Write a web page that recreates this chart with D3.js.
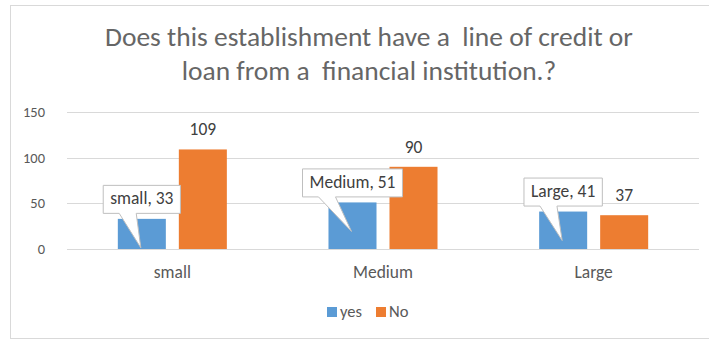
<!DOCTYPE html>
<html><head><meta charset="utf-8">
<script src="https://cdn.jsdelivr.net/npm/d3@7"></script>
<style>body{margin:0;background:#fff}svg{display:block}text{font-family:Carlito,Lato,"Open Sans",sans-serif}</style>
</head><body><svg id="c" width="709" height="340"></svg>
<script>
const categories = ["small", "Medium", "Large"];
const seriesNames = ["yes", "No"];
const yesValues = [33, 51, 41];
const noValues = [109, 90, 37];
const yTicks = [0, 50, 100, 150];
const titleLines = ["Does this establishment have a  line of credit or", "loan from a  financial institution.?"];
const colors = {yes: "#5b9bd5", No: "#ed7d31"};

const svg = d3.select("#c");
svg.append("rect").attr("width",709).attr("height",340).attr("fill","#fff");
svg.append("rect").attr("x",10.5).attr("y",5.5).attr("width",710).attr("height",333).attr("fill","none").attr("stroke","#d9d9d9");

function fit(str, target){
  const t = svg.append("text").attr("font-size",20).style("white-space","pre").text(str);
  const w = t.node().getComputedTextLength(); t.remove();
  return 20*target/w;
}
const fsTitle = fit(titleLines[0], 528);
const fsTick = fit("150", 22);
const fsLab = fit("Medium, 51", 86);
const fsCat = fit("Medium", 60);
const fsLeg = fit("yes", 22);

// title
svg.append("g").selectAll("text").data(titleLines).join("text")
  .attr("x",369).attr("y",(d,i)=>46+i*34).attr("text-anchor","middle")
  .attr("fill","#666666").attr("font-size",fsTitle).style("white-space","pre").text(d=>d);

const y = d3.scaleLinear().domain([0,150]).range([249,112]);
const x = d3.scaleBand().domain(categories).range([67,699]);
const x1 = d3.scaleBand().domain(seriesNames).range([0,x.bandwidth()]).paddingInner(0.213).paddingOuter(0.833);

// grid
svg.append("g").selectAll("line").data(yTicks).join("line")
  .attr("x1",67).attr("x2",699).attr("y1",d=>Math.round(y(d))+0.5).attr("y2",d=>Math.round(y(d))+0.5)
  .attr("stroke","#d9d9d9").attr("stroke-width",1);
svg.append("g").selectAll("text").data(yTicks).join("text")
  .attr("x",45).attr("y",d=>y(d)+5).attr("text-anchor","end").attr("fill","#595959").attr("font-size",fsTick).text(d=>d);

const data = categories.map((c,i)=>({cat:c, yes:yesValues[i], No:noValues[i]}));

// bars
const g = svg.append("g");
data.forEach(d=>{
  seriesNames.forEach(s=>{
    g.append("rect").attr("x",x(d.cat)+x1(s)).attr("y",y(d[s])).attr("width",x1.bandwidth())
      .attr("height",y(0)-y(d[s])).attr("fill",colors[s]);
  });
});

// No labels
svg.append("g").selectAll("text").data(data).join("text")
  .attr("x",d=>x(d.cat)+x1("No")+x1.bandwidth()/2).attr("y",d=>y(d.No)-14)
  .attr("text-anchor","middle").attr("fill","#404040").attr("font-size",fsLab).text(d=>d.No);

// yes callouts
const cg = svg.append("g");
data.forEach(d=>{
  const cx = x(d.cat)+x1("yes")+x1.bandwidth()/2;
  const top = y(d.yes);
  const label = d.cat+", "+d.yes;
  const t = cg.append("text").attr("font-size",fsLab).attr("fill","#404040").attr("text-anchor","middle").text(label);
  const tw = t.node().getComputedTextLength();
  const bw = tw+14, bh = 28;
  const bx = cx-bw/2, by2 = top-5.5, by = by2-bh;
  const tipX = cx-1, tipY = top+29;
  const p = `M${bx},${by}H${bx+bw}V${by2}H${bx+33}L${tipX},${tipY}L${bx+16},${by2}H${bx}Z`;
  cg.insert("path","text").attr("d",p).attr("fill","#fff").attr("stroke","#bfbfbf").attr("stroke-width",1);
  t.attr("x",cx).attr("y",by+bh/2+5);
});

// category labels
svg.append("g").selectAll("text").data(categories).join("text")
  .attr("x",d=>x(d)+x.bandwidth()/2).attr("y",278).attr("text-anchor","middle")
  .attr("fill","#595959").attr("font-size",fsCat).text(d=>d);

// legend
const lg = svg.append("g");
const legX = [327, 376];
seriesNames.forEach((s,i)=>{
  lg.append("rect").attr("x",legX[i]).attr("y",307).attr("width",10).attr("height",10).attr("fill",colors[s]);
  lg.append("text").attr("x",legX[i]+13).attr("y",317).attr("fill","#595959").attr("font-size",fsLeg).text(s);
});
</script></body></html>
